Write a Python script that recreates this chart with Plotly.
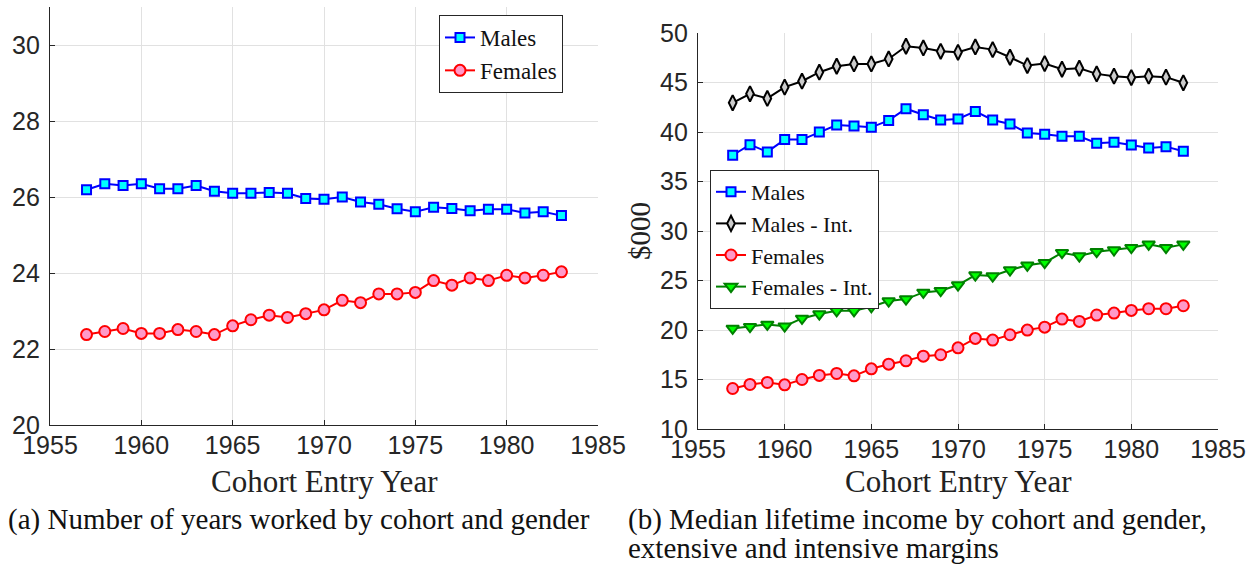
import plotly.graph_objects as go

# ---------------- data ----------------
years = [1957, 1958, 1959, 1960, 1961, 1962, 1963, 1964, 1965, 1966, 1967, 1968, 1969,
         1970, 1971, 1972, 1973, 1974, 1975, 1976, 1977, 1978, 1979, 1980, 1981, 1982, 1983]

# (a) years worked
years_males = [26.19, 26.35, 26.30, 26.35, 26.22, 26.22, 26.30, 26.15, 26.10, 26.10, 26.12, 26.10, 25.96,
               25.94, 26.00, 25.87, 25.81, 25.69, 25.61, 25.73, 25.70, 25.64, 25.68, 25.68, 25.58, 25.61, 25.51]
years_females = [22.38, 22.46, 22.54, 22.41, 22.41, 22.51, 22.46, 22.38, 22.61, 22.77, 22.89, 22.83, 22.93,
                 23.03, 23.28, 23.22, 23.45, 23.45, 23.49, 23.80, 23.68, 23.87, 23.80, 23.94, 23.87, 23.94, 24.03]

# (b) median lifetime income ($000)
inc_males = [37.65, 38.72, 37.99, 39.23, 39.23, 40.00, 40.70, 40.60, 40.47, 41.17, 42.35, 41.74, 41.21,
             41.31, 42.08, 41.21, 40.81, 39.90, 39.77, 39.56, 39.56, 38.86, 38.96, 38.69, 38.39, 38.52, 38.05]
inc_males_int = [42.95, 43.86, 43.39, 44.53, 45.13, 46.04, 46.64, 46.88, 46.88, 47.38, 48.66, 48.49, 48.15,
                 48.05, 48.59, 48.32, 47.55, 46.71, 46.91, 46.34, 46.44, 45.87, 45.64, 45.50, 45.64, 45.54, 44.97]
inc_females = [14.09, 14.50, 14.70, 14.46, 15.00, 15.41, 15.61, 15.37, 16.08, 16.55, 16.89, 17.36, 17.50,
               18.20, 19.15, 18.98, 19.52, 19.99, 20.29, 21.10, 20.87, 21.51, 21.71, 21.98, 22.15, 22.15, 22.45]
inc_females_int = [20.16, 20.33, 20.56, 20.39, 21.17, 21.61, 21.94, 21.94, 22.35, 22.92, 23.12, 23.80, 23.97,
                   24.54, 25.55, 25.45, 26.06, 26.53, 26.80, 27.81, 27.47, 27.91, 28.08, 28.31, 28.65, 28.31, 28.65]

x_ticks = [1955, 1960, 1965, 1970, 1975, 1980, 1985]
y_ticks_a = [20, 22, 24, 26, 28, 30]
y_ticks_b = [10, 15, 20, 25, 30, 35, 40, 45, 50]

x_title = "Cohort Entry Year"
y_title_b = "$000"
caption_a = "(a) Number of years worked by cohort and gender"
caption_b1 = "(b) Median lifetime income by cohort and gender,"
caption_b2 = "extensive and intensive margins"

# ---------------- layout helpers ----------------
W, H = 1256, 565
def px(x):
    return x / W
def py(y):
    return 1 - y / H

SANS = "Liberation Sans, Arial, sans-serif"
SERIF = "Liberation Serif, Times New Roman, serif"
AX = "#262626"
GRID = "#e1e1e1"

fig = go.Figure()

def add(x, y, name, line_color, fill, symbol, size, xa, ya, legend, mline=None):
    fig.add_trace(go.Scatter(
        x=x, y=y, name=name, mode="lines+markers",
        line=dict(color=line_color, width=2),
        marker=dict(symbol=symbol, size=size, color=fill,
                    line=dict(color=mline or line_color, width=2)),
        xaxis=xa, yaxis=ya, legend=legend, cliponaxis=False,
    ))

add(years, years_males, "Males", "#0000ff", "#00ffff", "square", 9, "x", "y", "legend")
add(years, years_females, "Females", "#ff0000", "#ff99c8", "circle", 11, "x", "y", "legend")

add(years, inc_males, "Males", "#0000ff", "#00ffff", "square", 9, "x2", "y2", "legend2")
add(years, inc_males_int, "Males - Int.", "#000000", "#cccccc", "diamond-tall", 11, "x2", "y2", "legend2")
add(years, inc_females, "Females", "#ff0000", "#ff99c8", "circle", 11, "x2", "y2", "legend2")
add(years, inc_females_int, "Females - Int.", "#008000", "#00ff00", "triangle-down", 11, "x2", "y2", "legend2",
    mline="#008000")

def xaxis(dom):
    return dict(domain=dom, range=[1955, 1985], tickvals=x_ticks, showgrid=True, gridcolor=GRID,
                gridwidth=1, showline=True, linecolor=AX, linewidth=1.3, ticks="inside", ticklen=5,
                tickcolor=AX, tickfont=dict(family=SANS, size=25, color=AX), zeroline=False,
                ticklabelstandoff=-2, fixedrange=True, automargin=False)

def yaxis(dom, rng, vals, anchor):
    return dict(domain=dom, range=rng, tickvals=vals, showgrid=True, gridcolor=GRID, gridwidth=1,
                showline=True, linecolor=AX, linewidth=1.3, ticks="inside", ticklen=5, tickcolor=AX,
                tickfont=dict(family=SANS, size=25, color=AX), zeroline=False, anchor=anchor,
                ticklabelstandoff=4, fixedrange=True, automargin=False)

legend_common = dict(bgcolor="white", bordercolor=AX, borderwidth=1,
                     xanchor="left", yanchor="top", tracegroupgap=0, itemsizing="trace")

fig.update_layout(
    width=W, height=H, margin=dict(l=0, r=0, t=0, b=0, autoexpand=False),
    paper_bgcolor="white", plot_bgcolor="white",
    xaxis=dict(**xaxis([px(50), px(598)]), anchor="y"),
    yaxis=yaxis([py(425), py(7)], [20, 31], y_ticks_a, "x"),
    xaxis2=dict(**xaxis([px(698), px(1218)]), anchor="y2"),
    yaxis2=yaxis([py(429), py(33)], [10, 50], y_ticks_b, "x2"),
    legend=dict(x=px(439), y=py(15), font=dict(family=SERIF, size=23, color="#111111"), **legend_common),
    legend2=dict(x=px(710), y=py(170), font=dict(family=SERIF, size=22, color="#111111"), **legend_common),
    showlegend=True,
)

ann = []
for cx in (324, 958):
    ann.append(dict(text=x_title, x=px(cx), y=py(462), xref="paper", yref="paper",
                    xanchor="center", yanchor="top", showarrow=False,
                    font=dict(family=SERIF, size=31, color="#222222")))
ann.append(dict(text=y_title_b, x=px(640), y=py(231), xref="paper", yref="paper",
                xanchor="center", yanchor="middle", showarrow=False, textangle=-90,
                font=dict(family=SERIF, size=29, color="#222222")))
ann.append(dict(text=caption_a, x=px(6), y=py(519), xref="paper", yref="paper",
                xanchor="left", yanchor="middle", showarrow=False,
                font=dict(family=SERIF, size=29, color="#111111")))
ann.append(dict(text=caption_b1, x=px(626), y=py(519), xref="paper", yref="paper",
                xanchor="left", yanchor="middle", showarrow=False,
                font=dict(family=SERIF, size=29, color="#111111")))
ann.append(dict(text=caption_b2, x=px(626), y=py(548), xref="paper", yref="paper",
                xanchor="left", yanchor="middle", showarrow=False,
                font=dict(family=SERIF, size=29, color="#111111")))
fig.update_layout(annotations=ann)

fig.write_html("out.html", config={"displayModeBar": False},
               post_script="document.body.style.margin='0';document.body.style.overflow='hidden';")
